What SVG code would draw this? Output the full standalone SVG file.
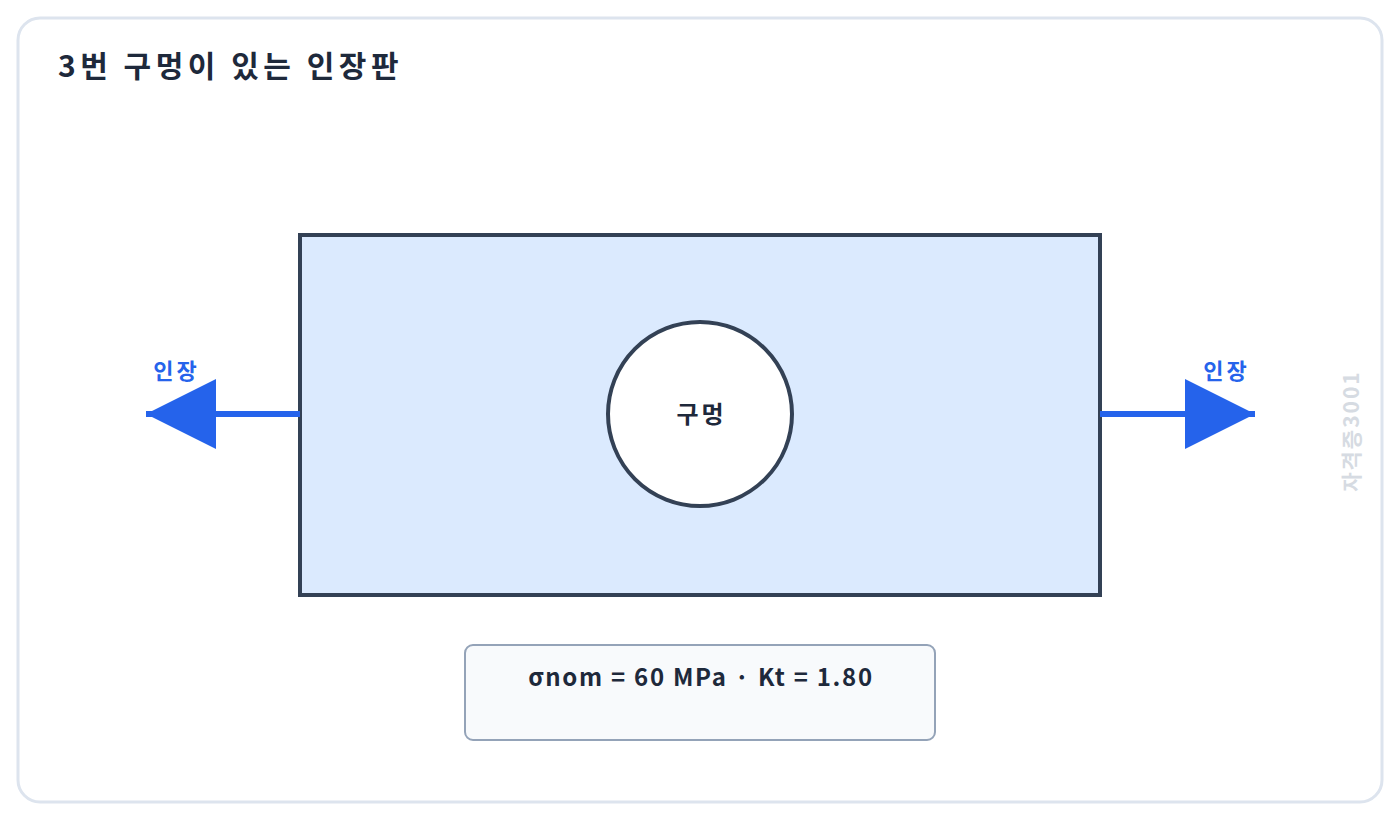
<svg xmlns="http://www.w3.org/2000/svg" width="1400" height="820" viewBox="0 0 1400 820">
<style>
text{font-family:"Noto Sans CJK KR","Noto Sans",sans-serif;font-weight:bold}
.force{stroke:#2563eb;stroke-width:6;fill:none}
.lbl{fill:#2563eb;font-size:22px;letter-spacing:3px;text-anchor:middle}
</style>
<defs>
<marker id="ah" viewBox="0 0 70 70" refX="70" refY="35" markerWidth="70" markerHeight="70" markerUnits="userSpaceOnUse" orient="auto">
<path d="M0,0 L70,35 L0,70 Z" fill="#2563eb"/>
</marker>
</defs>
<rect x="18" y="18" width="1364" height="784" rx="22" fill="#ffffff" stroke="#dde4ee" stroke-width="3"/>
<text x="58" y="77" font-size="30" letter-spacing="4.5" fill="#1e293b">3번 구멍이 있는 인장판</text>
<g id="plate">
<rect x="300" y="235" width="800" height="360" fill="#dbeafe" stroke="#334155" stroke-width="4"/>
</g>
<g id="hole">
<circle cx="700" cy="414" r="92" fill="#ffffff" stroke="#334155" stroke-width="4"/>
<text x="701.5" y="423" font-size="24" letter-spacing="3" fill="#1e293b" text-anchor="middle">구멍</text>
</g>
<g id="connectors">
<line class="force" x1="300" y1="414" x2="146" y2="414" marker-end="url(#ah)"/>
<line class="force" x1="1100" y1="414" x2="1255" y2="414" marker-end="url(#ah)"/>
</g>
<g id="load-left"><text class="lbl" x="176.5" y="379">인장</text></g>
<g id="load-right"><text class="lbl" x="1226.5" y="379">인장</text></g>
<g id="info">
<rect x="465" y="645" width="470" height="95" rx="8" fill="#f8fafc" stroke="#94a3b8" stroke-width="2"/>
<text x="701" y="686" font-size="24" letter-spacing="1.7" fill="#1e293b" text-anchor="middle">σnom = 60 MPa · Kt = 1.80</text>
</g>
<text transform="translate(1359,431) rotate(-90)" font-size="21" letter-spacing="2" fill="#d6dbe2" text-anchor="middle">자격증3001</text>
</svg>
